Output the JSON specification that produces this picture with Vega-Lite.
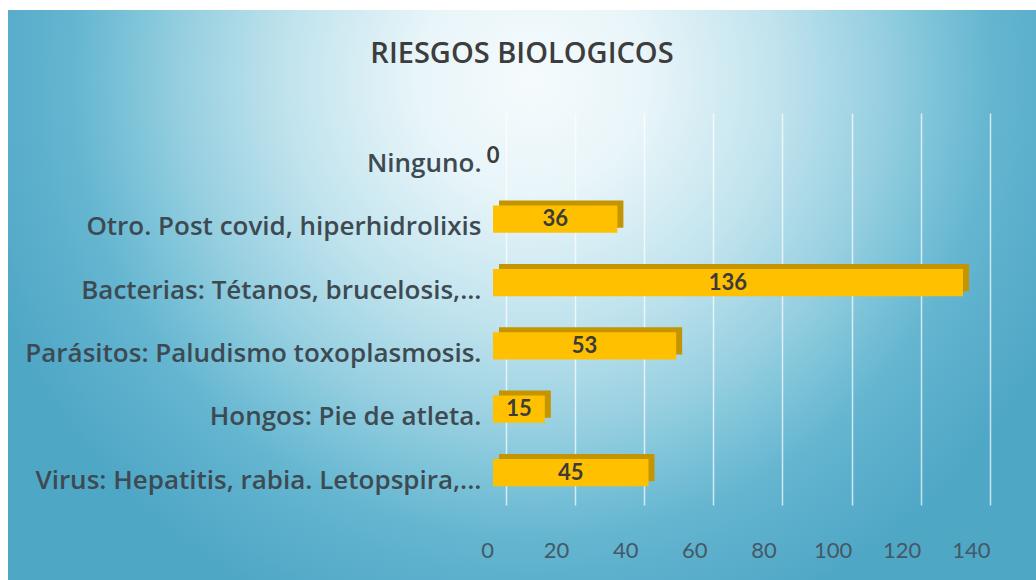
{
  "$schema": "https://vega.github.io/schema/vega-lite/v6.json",
  "width": 1028,
  "height": 570,
  "padding": {"left": 8, "top": 10, "right": 0, "bottom": 0},
  "autosize": "none",
  "background": "#ffffff",
  "config": {
    "font": "Lato",
    "view": {
      "stroke": null,
      "fill": {
        "gradient": "radial",
        "x1": 0.51, "y1": 0.29, "r1": 0,
        "x2": 0.51, "y2": 0.29, "r2": 0.75,
        "stops": [
          {"offset": 0, "color": "#f5fbfd"},
          {"offset": 0.15, "color": "#e8f5f9"},
          {"offset": 0.32, "color": "#c0e3ed"},
          {"offset": 0.45, "color": "#98d0e1"},
          {"offset": 0.52, "color": "#7ec4d9"},
          {"offset": 0.6, "color": "#64b5d0"},
          {"offset": 0.75, "color": "#4fa7c6"}
        ]
      }
    }
  },
  "title": {
    "text": "RIESGOS  BIOLOGICOS",
    "font": "Open Sans",
    "fontSize": 29,
    "fontWeight": 600,
    "color": "#3d3d3d",
    "baseline": "middle",
    "offset": -73,
    "anchor": "middle"
  },
  "data": {
    "values": [
      {"riesgo": "Ninguno.", "valor": 0},
      {"riesgo": "Otro. Post covid, hiperhidrolixis", "valor": 36},
      {"riesgo": "Bacterias: Tétanos, brucelosis,...", "valor": 136},
      {"riesgo": "Parásitos: Paludismo toxoplasmosis.", "valor": 53},
      {"riesgo": "Hongos: Pie de atleta.", "valor": 15},
      {"riesgo": "Virus: Hepatitis, rabia. Letopspira,...", "valor": 45}
    ]
  },
  "encoding": {
    "y": {
      "field": "riesgo",
      "type": "nominal",
      "sort": null,
      "scale": {"range": [88, 480], "paddingInner": 0.57, "paddingOuter": 0.38, "align": 0.92},
      "axis": {
        "title": null,
        "domain": false,
        "ticks": false,
        "tickSize": 0,
        "offset": -485,
        "labelPadding": 12,
        "labelFont": "Open Sans",
        "labelFontSize": 26,
        "labelFontWeight": 600,
        "labelColor": "#3e4a52",
        "labelLimit": 0,
        "labelOffset": 8
      }
    }
  },
  "layer": [
    {
      "layer": [
        {
          "mark": {"type": "bar", "color": "#c49500", "xOffset": 6, "yOffset": -5},
          "encoding": {
            "x": {
              "field": "valor",
              "type": "quantitative",
              "scale": {"domain": [0, 140], "range": [485, 968.8], "nice": false},
              "axis": {
                "title": null,
                "values": [0, 20, 40, 60, 80, 100, 120, 140],
                "grid": true,
                "gridColor": "#ffffff",
                "gridOpacity": 0.7,
                "gridWidth": 1.5,
                "domain": false,
                "ticks": false,
                "tickSize": 0,
                "translate": 13.5,
                "labelOffset": -19,
                "labelFlush": false,
                "offset": -53,
                "labelPadding": 0,
                "labelFont": "Lato",
                "labelFontSize": 22,
                "labelColor": "#455866",
                "labelBaseline": "top"
              }
            }
          }
        },
        {
          "mark": {"type": "bar", "color": "#ffc000"},
          "encoding": {
            "x": {"field": "valor", "type": "quantitative"}
          }
        }
      ]
    },
    {
      "mark": {"type": "text", "font": "Lato", "fontSize": 22, "fontWeight": "bold", "color": "#3b3b3b", "baseline": "middle", "align": "center"},
      "encoding": {
        "x": {
          "field": "valor",
          "type": "quantitative",
          "scale": {"domain": [0, 280], "range": [485, 968.8], "nice": false},
          "axis": null
        },
        "text": {"field": "valor", "type": "quantitative"}
      }
    }
  ],
  "resolve": {"scale": {"x": "independent"}}
}
